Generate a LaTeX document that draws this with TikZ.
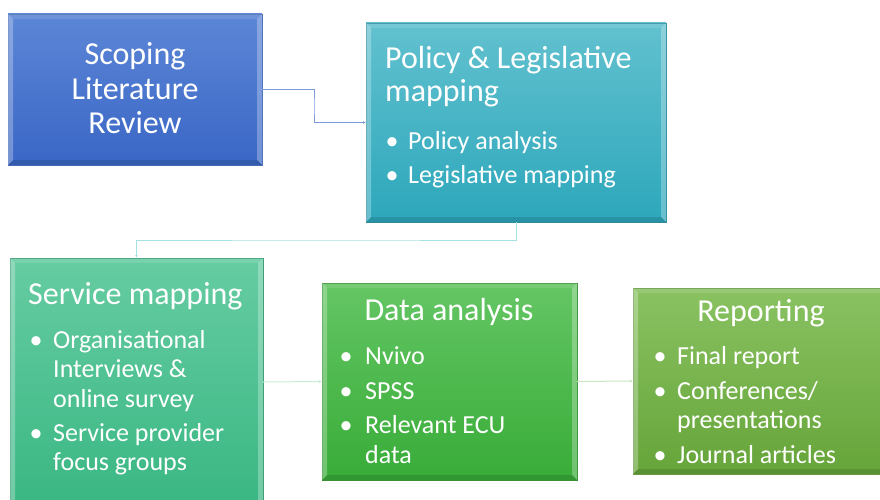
\documentclass[tikz,border=0pt]{standalone}
\usepackage{fontspec}
\setmainfont{Carlito}
\usetikzlibrary{arrows.meta,calc}
\definecolor{bAtop}{HTML}{5C86D6}\definecolor{bAbot}{HTML}{3A67C6}\definecolor{bAline}{HTML}{4A6FB5}
\definecolor{bBtop}{HTML}{62C1CF}\definecolor{bBbot}{HTML}{2DA7BB}\definecolor{bBline}{HTML}{2F8E9E}
\definecolor{bCtop}{HTML}{66CCA2}\definecolor{bCbot}{HTML}{3AB783}\definecolor{bCline}{HTML}{3B9C74}
\definecolor{bDtop}{HTML}{64C664}\definecolor{bDbot}{HTML}{38AC38}\definecolor{bDline}{HTML}{3A9438}
\definecolor{bEtop}{HTML}{8AC262}\definecolor{bEbot}{HTML}{66A53A}\definecolor{bEline}{HTML}{6A9A48}
\definecolor{cA}{HTML}{7C9CDA}\definecolor{cB}{HTML}{A4E2E2}\definecolor{cC}{HTML}{C6EDD6}\definecolor{cD}{HTML}{C9E6BE}
\tikzset{
  stagebox/.style={rectangle, anchor=north west, inner sep=0pt, outer sep=0pt, line width=0.8pt},
  head/.style={text=white, inner sep=0pt, font=\fontsize{32}{34.5}\selectfont},
  item/.style={text=white, inner sep=0pt, anchor=base west, font=\fontsize{26}{29.5}\selectfont},
  dot/.style={text=white, inner sep=0pt, anchor=base, font=\fontsize{26}{29.5}\selectfont},
  conn/.style={line width=1pt, -{Latex[length=3pt,width=3pt]}},
}
\newcommand\bevelbox[1]{%
  \fill[white,opacity=.28] (#1.north west) -- (#1.south west) -- ($(#1.south west)+(5,-5)$) -- ($(#1.north west)+(5,5)$) -- cycle;
  \fill[white,opacity=.28] (#1.north east) -- (#1.south east) -- ($(#1.south east)+(-5,-5)$) -- ($(#1.north east)+(-5,5)$) -- cycle;
  \fill[white,opacity=.12] (#1.north west) -- (#1.north east) -- ($(#1.north east)+(-5,5)$) -- ($(#1.north west)+(5,5)$) -- cycle;
  \fill[black,opacity=.12] (#1.south west) -- (#1.south east) -- ($(#1.south east)+(-5,-5)$) -- ($(#1.south west)+(5,-5)$) -- cycle;
}
\begin{document}
\begin{tikzpicture}[x=1pt,y=-1pt]
\useasboundingbox (0,0) rectangle (880,500);
\clip (0,0) rectangle (880,500);
% boxes
\node[stagebox, draw=bAline, top color=bAtop, bottom color=bAbot, minimum width=254pt, minimum height=151pt] (b1) at (8,14) {};
\node[stagebox, draw=bBline, top color=bBtop, bottom color=bBbot, minimum width=300pt, minimum height=199pt] (b2) at (366,23) {};
\node[stagebox, draw=bCline, top color=bCtop, bottom color=bCbot, minimum width=253pt, minimum height=248pt] (b3) at (10,258) {};
\node[stagebox, draw=bDline, top color=bDtop, bottom color=bDbot, minimum width=255pt, minimum height=197pt] (b4) at (322,283) {};
\node[stagebox, draw=bEline, top color=bEtop, bottom color=bEbot, minimum width=256pt, minimum height=186pt] (b5) at (633,288) {};
\bevelbox{b1}\bevelbox{b2}\bevelbox{b3}\bevelbox{b4}\bevelbox{b5}
% box 1 text
\node[head, anchor=base] (t1a) at (135,65) {Scoping};
\node[head, anchor=base] (t1b) at (135,100) {Literature};
\node[head, anchor=base] (t1c) at (135,134) {Review};
% box 2 text
\node[head, anchor=base west] (t2a) at (385,69) {Policy \& Legislative};
\node[head, anchor=base west] (t2b) at (385,102) {mapping};
\node[dot] (d2a) at (392,149) {•};
\node[item] (t2c) at (408,149) {Policy analysis};
\node[dot] (d2b) at (392,183) {•};
\node[item] (t2d) at (408,183) {Legislative mapping};
% box 3 text
\node[head, anchor=base west] (t3a) at (28,304) {Service mapping};
\node[dot] (d3a) at (36,348) {•};
\node[item] (t3b) at (53,348) {Organisational};
\node[item] (t3c) at (53,377) {Interviews \&};
\node[item] (t3d) at (53,407) {online survey};
\node[dot] (d3b) at (36,441) {•};
\node[item] (t3e) at (53,441) {Service provider};
\node[item] (t3f) at (53,470) {focus groups};
% box 4 text
\node[head, anchor=base] (t4a) at (449,320) {Data analysis};
\node[dot] (d4a) at (346,364) {•};
\node[item] (t4b) at (365,364) {Nvivo};
\node[dot] (d4b) at (346,399) {•};
\node[item] (t4c) at (365,399) {SPSS};
\node[dot] (d4c) at (346,433) {•};
\node[item] (t4d) at (365,433) {Relevant ECU};
\node[item] (t4e) at (365,463) {data};
% box 5 text
\node[head, anchor=base] (t5a) at (761,321) {Reporting};
\node[dot] (d5a) at (660,364) {•};
\node[item] (t5b) at (677,364) {Final report};
\node[dot] (d5b) at (660,399) {•};
\node[item] (t5c) at (677,399) {Conferences/};
\node[item] (t5d) at (677,428) {presentations};
\node[dot] (d5c) at (660,463) {•};
\node[item] (t5e) at (677,463) {Journal articles};
% connectors
\draw[conn, cA] (b1.east) -| ($(b1.east)!0.5!(b2.west)$) |- (b2.west);
\draw[conn, cB] (b2.south) |- ($(b2.south)!0.5!(b3.north)$) -| (b3.north);
\draw[conn, cC] (b3.east) -- (b4.west);
\draw[conn, cD] (b4.east) -- (b5.west);
\end{tikzpicture}
\end{document}
